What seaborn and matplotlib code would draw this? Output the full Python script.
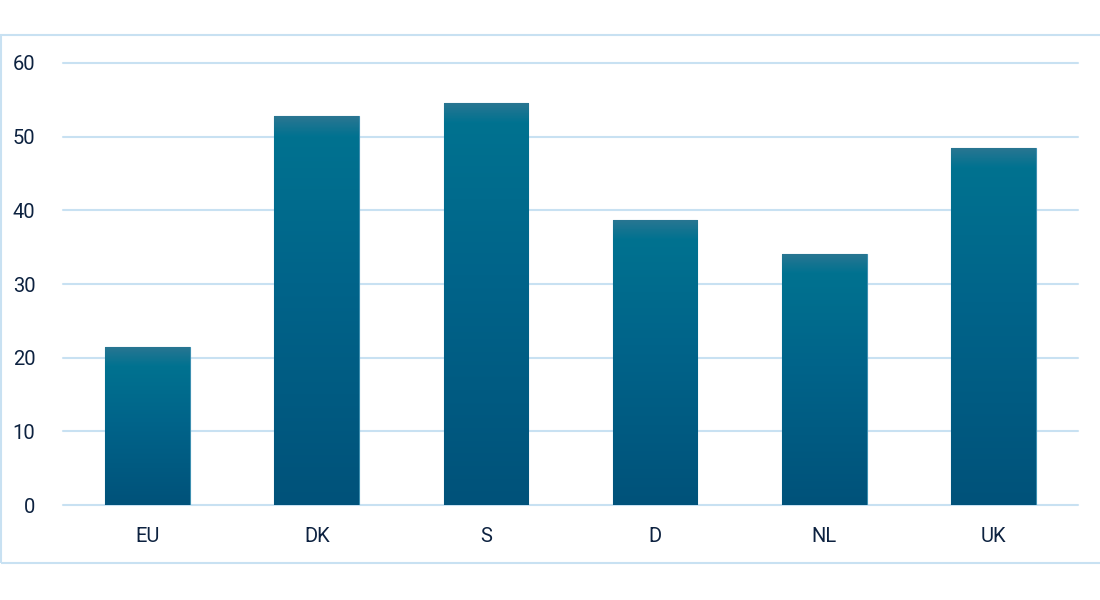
import matplotlib
matplotlib.use('Agg')
import matplotlib.pyplot as plt
import seaborn as sns
import numpy as np
from matplotlib.colors import LinearSegmentedColormap
from matplotlib.patches import Rectangle

# ----------
# data
# ----------
countries = ['EU', 'DK', 'S', 'D', 'NL', 'UK']
values = [21.5, 52.8, 54.6, 38.7, 34.1, 48.5]
yticks = [0, 10, 20, 30, 40, 50, 60]

grid_col = '#c8e1f2'
text_col = '#0d2240'

sns.set_style('white')
plt.rcParams['font.family'] = ['Roboto', 'DejaVu Sans']

fig = plt.figure(figsize=(11, 6), dpi=100)
ax = fig.add_axes([0.0573, 0.1583, 0.9227, 0.7367])

bars = sns.barplot(x=countries, y=values, color='#006888', width=0.5,
                   edgecolor='#3d8fb0', linewidth=0.8, ax=ax, zorder=3)

# gradient fill, one per bar (lighter band at the top is ~20px tall)
grad = np.linspace(0, 1, 512).reshape(-1, 1)
band = 2.7  # data units
for p in ax.patches:
    x0, y0 = p.get_x(), p.get_y()
    w, h = p.get_width(), p.get_height()
    f = 1 - band / h
    cmap = LinearSegmentedColormap.from_list(
        'bar', [(0.0, '#00527a'), (f * 0.6, '#00648a'), (f, '#007290'),
                (1.0, '#2a7692')])
    im = ax.imshow(grad, cmap=cmap, aspect='auto', origin='lower',
                   extent=[x0, x0 + w, y0, y0 + h], zorder=3.5)
    im.set_clip_path(p)

ax.set_xlim(-0.5, len(countries) - 0.5)
ax.set_ylim(0, 60)
ax.set_yticks(yticks)
ax.grid(axis='y', color=grid_col, linewidth=1.5, zorder=0)
for gl in ax.yaxis.get_gridlines():
    gl.set_clip_on(False)
ax.set_axisbelow(True)
for s in ax.spines.values():
    s.set_visible(False)
ax.tick_params(axis='both', length=0, labelsize=14.5, labelcolor=text_col)
ax.tick_params(axis='y', pad=20)
ax.tick_params(axis='x', pad=16)

# outer frame
fig.patches.append(Rectangle((0.001, 0.0617), 1.2, 0.88, transform=fig.transFigure,
                             fill=False, edgecolor=grid_col, linewidth=1.5))

fig.savefig('out.png', dpi=100)
